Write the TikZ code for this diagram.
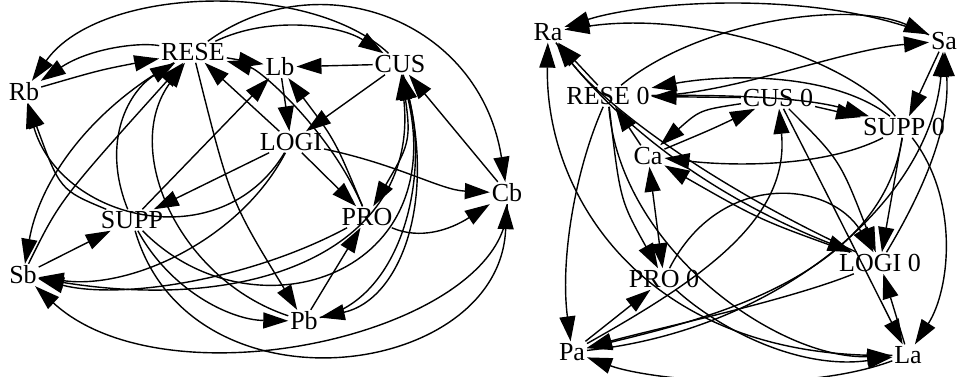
\documentclass[tikz,border=0pt]{standalone}
\usepackage{fontspec}
\setmainfont{Liberation Serif}
\usetikzlibrary{arrows.meta}
\begin{document}
\begin{tikzpicture}[x=1pt,y=-1pt,
  v/.style={font=\fontsize{26}{28}\selectfont, inner sep=2pt, outer sep=0pt},
  e/.style={line width=1.4pt, -{Triangle[length=25pt,width=16pt]}},
  ee/.style={line width=1.4pt, {Triangle[length=25pt,width=16pt]}-{Triangle[length=25pt,width=16pt]}}]
\useasboundingbox (0,0) rectangle (960,376);

% ---------- left network ----------
\node[v] (RESE) at (193,52) {RESE};
\node[v] (Lb)   at (280,67) {Lb};
\node[v] (CUS)  at (400,64) {CUS};
\node[v] (Rb)   at (24,92)  {Rb};
\node[v] (LOGI) at (291,142) {LOGI};
\node[v] (Cb)   at (507,193) {Cb};
\node[v] (SUPP) at (132,220) {SUPP};
\node[v] (PRO)  at (367,217) {PRO};
\node[v] (Sb)   at (23,275) {Sb};
\node[v] (Pb)   at (304,321) {Pb};

\draw[e] (Rb) .. controls (100,70) .. (RESE);
\draw[e] (RESE) .. controls (140,42) and (90,48) .. (Rb);
\draw[e] (CUS) .. controls (310,-20) and (100,-15) .. (Rb);
\draw[e] (RESE) .. controls (270,15) and (340,25) .. (CUS);
\draw[e] (RESE) .. controls (320,-40) and (480,20) .. (Cb);
\draw[e] (RESE) -- (Lb);
\draw[e] (CUS) -- (Lb);
\draw[e] (CUS) -- (LOGI);
\draw[e] (Lb) -- (LOGI);
\draw[e] (LOGI) -- (RESE);
\draw[e] (SUPP) -- (Lb);
\draw[e] (PRO) .. controls (335,140) .. (Lb);
\draw[e] (PRO) .. controls (330,130) and (260,70) .. (RESE);
\draw[e] (LOGI) -- (SUPP);
\draw[e] (LOGI) -- (PRO);
\draw[e] (LOGI) .. controls (400,165) and (440,190) .. (Cb);
\draw[e] (Sb) -- (SUPP);
\draw[e] (RESE) .. controls (90,110) and (40,180) .. (Sb);
\draw[e] (SUPP) .. controls (100,140) and (130,90) .. (RESE);
\draw[e] (Pb) .. controls (180,280) and (120,150) .. (RESE);
\draw[e] (Sb) .. controls (60,200) .. (RESE);
\draw[e] (RESE) .. controls (230,200) .. (Pb);
\draw[e] (SUPP) .. controls (170,290) and (230,320) .. (Pb);
\draw[e] (Pb) -- (PRO);
\draw[e] (CUS) .. controls (440,200) and (400,300) .. (Pb);
\draw[e] (CUS) .. controls (412,140) .. (PRO);
\draw[e] (Cb) -- (CUS);
\draw[e] (PRO) .. controls (420,240) and (450,230) .. (Cb);
\draw[e] (SUPP) .. controls (190,420) and (500,380) .. (Cb);
\draw[e] (Cb) .. controls (510,330) and (170,410) .. (Sb);
\draw[e] (PRO) .. controls (250,280) and (120,300) .. (Sb);
\draw[e] (LOGI) .. controls (240,240) and (130,290) .. (Sb);
\draw[e] (Pb) .. controls (400,300) and (430,180) .. (CUS);
\draw[e] (SUPP) .. controls (250,340) and (450,280) .. (CUS);
\draw[e] (Sb) .. controls (250,320) and (420,250) .. (CUS);
\draw[e] (LOGI) .. controls (220,260) and (60,220) .. (Rb);
\draw[e] (SUPP) .. controls (60,190) .. (Rb);

% ---------- right network ----------
\node[v] (Ra)    at (548,32)  {Ra};
\node[v] (Sa)    at (944,41)  {Sa};
\node[v] (RESE0) at (608,96)  {RESE 0};
\node[v] (CUS0)  at (778,98)  {CUS 0};
\node[v] (SUPP0) at (904,127) {SUPP 0};
\node[v] (Ca)    at (648,156) {Ca};
\node[v] (LOGI0) at (880,263) {LOGI 0};
\node[v] (PRO0)  at (664,279) {PRO 0};
\node[v] (Pa)    at (572,352) {Pa};
\node[v] (La)    at (908,355) {La};

\draw[e] (Sa) .. controls (820,-10) and (650,0) .. (Ra);
\draw[e] (SUPP0) .. controls (850,60) and (700,10) .. (Ra);
\draw[e] (RESE0) .. controls (700,20) and (850,0) .. (Sa);
\draw[e] (RESE0) .. controls (730,95) and (840,50) .. (Sa);
\draw[e] (Sa) -- (SUPP0);
\draw[e] (LOGI0) .. controls (930,180) and (950,120) .. (Sa);
\draw[e] (Pa) .. controls (780,330) and (930,200) .. (Sa);
\draw[e] (RESE0) -- (Ra);
\draw[e] (LOGI0) .. controls (700,180) and (600,100) .. (Ra);
\draw[e] (Ra) .. controls (620,130) and (720,200) .. (LOGI0);
\draw[e] (La) .. controls (650,360) and (545,200) .. (Ra);
\draw[e] (RESE0) .. controls (575,170) and (560,260) .. (Pa);
\draw[e] (CUS0) -- (RESE0);
\draw[e] (SUPP0) .. controls (830,70) and (720,75) .. (RESE0);
\draw[e] (RESE0) .. controls (700,95) and (800,95) .. (SUPP0);
\draw[e] (CUS0) -- (SUPP0);
\draw[e] (CUS0) .. controls (700,110) .. (Ca);
\draw[e] (Ca) .. controls (710,130) .. (CUS0);
\draw[e] (SUPP0) .. controls (820,170) and (720,165) .. (Ca);
\draw[e] (Ca) -- (RESE0);
\draw[ee] (Ca) -- (PRO0);
\draw[e] (RESE0) .. controls (620,250) and (780,360) .. (La);
\draw[e] (PRO0) .. controls (720,330) and (800,370) .. (La);
\draw[e] (Pa) -- (PRO0);
\draw[e] (LOGI0) .. controls (790,300) and (650,330) .. (Pa);
\draw[e] (SUPP0) .. controls (880,280) and (700,320) .. (Pa);
\draw[e] (La) .. controls (800,395) and (650,380) .. (Pa);
\draw[e] (CUS0) .. controls (830,200) .. (La);
\draw[e] (SUPP0) .. controls (960,200) and (950,290) .. (La);
\draw[e] (La) -- (LOGI0);
\draw[e] (CUS0) .. controls (840,160) .. (LOGI0);
\draw[e] (SUPP0) -- (LOGI0);
\draw[e] (PRO0) .. controls (720,170) and (830,180) .. (LOGI0);
\draw[e] (Pa) .. controls (700,280) and (790,220) .. (CUS0);
\draw[e] (LOGI0) .. controls (760,220) .. (Ca);
\draw[e] (RESE0) .. controls (620,200) .. (PRO0);
\end{tikzpicture}
\end{document}
